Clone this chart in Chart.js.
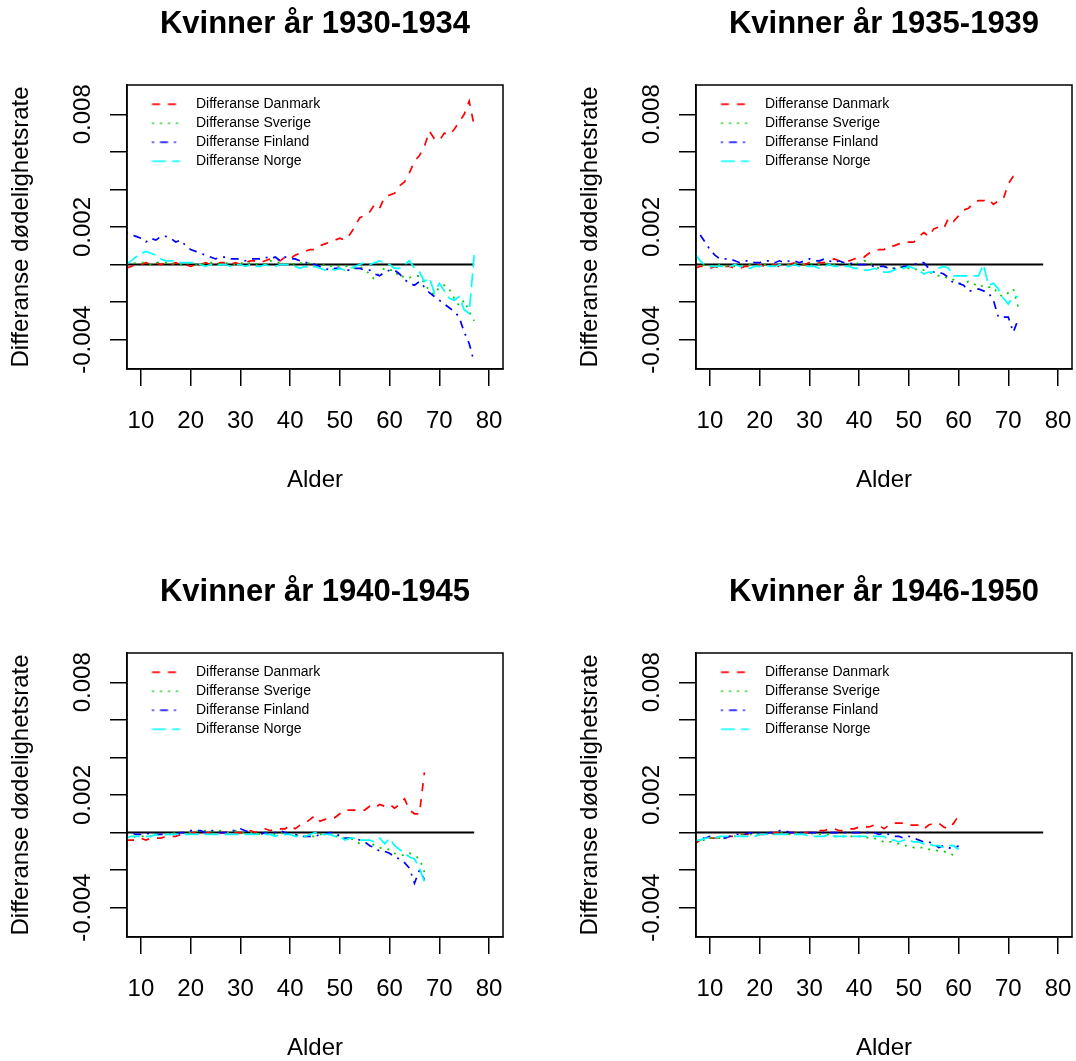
<!DOCTYPE html>
<html><head><meta charset="utf-8">
<script src="https://cdn.jsdelivr.net/npm/chart.js@4.4.1/dist/chart.umd.min.js"></script>
<style>
html,body{margin:0;padding:0;background:#fff;overflow:hidden;width:1076px;height:1061px;}
canvas{position:absolute;}
</style></head><body>
<canvas id="c1" width="507" height="500" style="left:0px;top:0px"></canvas>
<canvas id="c2" width="507" height="500" style="left:569px;top:0px"></canvas>
<canvas id="c3" width="507" height="500" style="left:0px;top:568px"></canvas>
<canvas id="c4" width="507" height="500" style="left:569px;top:568px"></canvas>
<script>
// ---- categories (age) ----
const ages = [7,8,9,10,11,12,13,14,15,16,17,18,19,20,21,22,23,24,25,26,27,28,29,30,31,32,33,34,35,36,
  37,38,39,40,41,42,43,44,45,46,47,48,49,50,51,52,53,54,55,56,57,58,59,60,61,62,63,64,65,66,
  67,68,69,70,71,72,73,74,75,76,77];

const panelTitles = ['Kvinner år 1930-1934','Kvinner år 1935-1939','Kvinner år 1940-1945','Kvinner år 1946-1950'];
const seriesNames = ['Differanse Danmark','Differanse Sverige','Differanse Finland','Differanse Norge'];

// ---- 1930-1934 (ages 7..77) ----
const dk1930 = [-0.0002,-0.0001,0.0000,0.0000,0.0001,0.0000,0.0001,0.0000,0.0001,0.0000,
  0.0001,0.0000,0.0000,-0.0001,0.0000,0.0000,0.0001,0.0000,0.0000,0.0001,
  0.0001,0.0000,0.0001,0.0000,0.0001,0.0002,0.0002,0.0001,0.0002,0.0003,
  0.0003,0.0002,0.0004,0.0003,0.0005,0.0006,0.0007,0.0008,0.0008,0.0010,
  0.0011,0.0012,0.0013,0.0014,0.0013,0.0016,0.0020,0.0025,0.0026,0.0028,
  0.0032,0.0030,0.0036,0.0037,0.0038,0.0042,0.0044,0.0049,0.0055,0.0058,
  0.0063,0.0071,0.0067,0.0066,0.0070,0.0069,0.0072,0.0076,0.0080,0.0087,0.0074];
const se1930 = [0.0000,0.0000,0.0001,0.0001,0.0001,0.0000,0.0001,0.0001,0.0001,0.0000,
  0.0001,0.0000,0.0000,0.0001,0.0000,0.0001,0.0000,0.0001,0.0001,0.0000,
  0.0001,0.0000,0.0000,0.0001,0.0000,0.0001,0.0000,0.0001,0.0000,0.0002,
  0.0001,0.0001,0.0000,0.0001,0.0000,0.0001,0.0000,0.0001,0.0000,-0.0001,
  0.0000,-0.0001,0.0000,-0.0001,-0.0001,-0.0001,-0.0002,-0.0001,-0.0003,-0.0005,
  -0.0008,-0.0004,-0.0002,-0.0003,-0.0003,-0.0007,-0.0006,-0.0007,-0.0006,-0.0006,
  -0.0010,-0.0014,-0.0016,-0.0012,-0.0011,-0.0013,-0.0018,-0.0022,-0.0019,-0.0025,-0.0030];
const fi1930 = [0.0017,0.0016,0.0015,0.0014,0.0012,0.0014,0.0013,0.0015,0.0015,0.0014,
  0.0012,0.0013,0.0010,0.0008,0.0007,0.0006,0.0005,0.0004,0.0003,0.0004,
  0.0004,0.0003,0.0003,0.0003,0.0002,0.0003,0.0003,0.0003,0.0004,0.0003,
  0.0004,0.0002,0.0004,0.0003,0.0003,0.0002,0.0001,0.0001,0.0000,-0.0001,
  -0.0002,-0.0003,-0.0002,-0.0002,-0.0003,-0.0003,-0.0002,-0.0002,-0.0003,-0.0003,
  -0.0005,-0.0006,-0.0004,-0.0003,-0.0003,-0.0005,-0.0008,-0.0010,-0.0011,-0.0009,
  -0.0012,-0.0015,-0.0017,-0.0019,-0.0021,-0.0023,-0.0025,-0.0028,-0.0036,-0.0042,-0.0052];
const no1930 = [0.0000,0.0002,0.0004,0.0006,0.0007,0.0006,0.0005,0.0003,0.0002,0.0002,
  0.0002,0.0001,0.0001,0.0001,0.0001,0.0000,-0.0001,0.0000,-0.0001,0.0000,
  0.0000,-0.0001,0.0000,0.0000,-0.0001,0.0000,-0.0001,-0.0001,0.0000,-0.0001,
  -0.0001,0.0000,0.0000,0.0000,-0.0001,-0.0002,-0.0001,-0.0002,-0.0001,-0.0002,
  -0.0003,-0.0002,-0.0003,-0.0002,-0.0003,-0.0002,-0.0001,0.0000,0.0001,0.0000,
  0.0001,0.0002,0.0001,0.0000,-0.0002,-0.0002,0.0000,0.0002,-0.0002,-0.0004,
  -0.0009,-0.0007,-0.0015,-0.0010,-0.0014,-0.0018,-0.0019,-0.0017,-0.0024,-0.0026,0.0005];

// ---- 1935-1939 (ages 7..72) ----
const dk1935 = [-0.0002,-0.0001,-0.0001,-0.0002,-0.0001,-0.0002,-0.0001,-0.0001,-0.0002,-0.0002,
  -0.0001,-0.0001,-0.0001,0.0000,-0.0001,0.0000,0.0000,-0.0001,0.0000,0.0000,
  0.0001,0.0000,0.0000,0.0001,0.0000,0.0001,0.0001,0.0002,0.0003,0.0002,
  0.0002,0.0002,0.0003,0.0004,0.0004,0.0006,0.0007,0.0008,0.0008,0.0010,
  0.0010,0.0011,0.0012,0.0012,0.0012,0.0015,0.0017,0.0015,0.0019,0.0020,
  0.0019,0.0025,0.0023,0.0026,0.0029,0.0030,0.0033,0.0034,0.0034,0.0035,
  0.0032,0.0034,0.0035,0.0043,0.0047,0.0048];
const se1935 = [-0.0001,-0.0001,0.0000,-0.0001,-0.0001,0.0000,-0.0001,0.0000,-0.0001,-0.0001,
  0.0000,0.0000,-0.0001,0.0000,0.0000,0.0000,-0.0001,0.0000,0.0000,0.0000,
  0.0001,0.0000,0.0000,0.0000,0.0001,0.0000,0.0000,0.0001,0.0000,0.0001,
  0.0001,0.0000,0.0000,0.0001,0.0002,0.0002,-0.0001,-0.0002,-0.0001,-0.0002,
  -0.0002,-0.0001,-0.0002,-0.0002,-0.0003,-0.0002,-0.0003,-0.0004,-0.0005,-0.0006,
  -0.0006,-0.0008,-0.0008,-0.0010,-0.0010,-0.0009,-0.0010,-0.0012,-0.0011,-0.0012,
  -0.0012,-0.0016,-0.0017,-0.0015,-0.0013,-0.0023];
const fi1935 = [0.0019,0.0016,0.0012,0.0008,0.0005,0.0003,0.0003,0.0003,0.0002,0.0001,
  0.0002,0.0002,0.0001,0.0001,0.0002,0.0002,0.0001,0.0002,0.0001,0.0002,
  0.0002,0.0001,0.0002,0.0003,0.0002,0.0002,0.0003,0.0002,0.0001,0.0002,
  0.0001,0.0001,0.0000,0.0000,0.0000,0.0000,-0.0001,-0.0001,-0.0001,-0.0002,
  -0.0002,-0.0002,-0.0001,-0.0001,0.0000,0.0001,0.0001,-0.0002,-0.0004,-0.0004,
  -0.0005,-0.0007,-0.0010,-0.0010,-0.0011,-0.0014,-0.0014,-0.0013,-0.0014,-0.0015,
  -0.0019,-0.0028,-0.0028,-0.0028,-0.0036,-0.0029];
const no1935 = [0.0006,0.0002,0.0000,-0.0001,-0.0001,-0.0001,-0.0001,-0.0001,0.0000,-0.0001,
  -0.0001,-0.0002,-0.0001,-0.0001,0.0000,-0.0001,-0.0001,0.0000,-0.0001,-0.0001,
  0.0000,-0.0001,-0.0001,-0.0001,-0.0001,-0.0002,-0.0001,0.0000,-0.0001,-0.0001,
  -0.0001,-0.0001,-0.0002,-0.0002,-0.0003,-0.0003,-0.0002,-0.0003,-0.0004,-0.0004,
  -0.0003,-0.0002,-0.0002,-0.0001,-0.0002,-0.0003,-0.0005,-0.0004,-0.0004,-0.0002,
  -0.0001,-0.0002,-0.0006,-0.0006,-0.0006,-0.0006,-0.0006,-0.0006,0.0000,-0.0011,
  -0.0010,-0.0013,-0.0018,-0.0021,-0.0017,-0.0017];

// ---- 1940-1945 (ages 7..67) ----
const dk1940 = [-0.0004,-0.0004,-0.0004,-0.0003,-0.0004,-0.0003,-0.0003,-0.0003,-0.0002,-0.0002,
  -0.0002,-0.0001,-0.0001,0.0000,0.0000,0.0001,0.0000,0.0000,0.0001,0.0000,
  0.0000,0.0001,0.0000,0.0000,0.0000,0.0001,0.0000,0.0001,0.0002,0.0001,
  0.0002,0.0002,0.0002,0.0004,0.0002,0.0004,0.0005,0.0007,0.0009,0.0006,
  0.0007,0.0008,0.0008,0.0010,0.0012,0.0012,0.0012,0.0012,0.0012,0.0014,
  0.0013,0.0015,0.0014,0.0015,0.0013,0.0015,0.0018,0.0012,0.0010,0.0010,
  0.0032];
const se1940 = [-0.0003,-0.0003,-0.0002,-0.0002,-0.0002,-0.0002,-0.0001,-0.0001,-0.0001,-0.0001,
  0.0000,0.0000,0.0000,0.0000,0.0001,0.0000,0.0001,0.0001,0.0000,0.0001,
  0.0000,0.0000,0.0001,0.0000,0.0000,0.0000,0.0000,-0.0001,0.0000,0.0000,
  -0.0001,0.0000,-0.0001,-0.0001,-0.0001,-0.0002,-0.0002,-0.0002,-0.0002,-0.0001,
  -0.0001,-0.0001,-0.0002,-0.0002,-0.0003,-0.0003,-0.0004,-0.0006,-0.0006,-0.0005,
  -0.0007,-0.0008,-0.0009,-0.0009,-0.0011,-0.0012,-0.0012,-0.0011,-0.0012,-0.0014,
  -0.0021];
const fi1940 = [-0.0001,0.0000,-0.0001,-0.0001,-0.0001,0.0000,-0.0001,-0.0001,-0.0001,-0.0001,
  -0.0001,0.0000,0.0000,0.0001,0.0001,0.0001,0.0000,0.0001,0.0001,0.0000,
  0.0000,0.0001,0.0001,0.0002,0.0001,0.0000,-0.0001,-0.0001,0.0000,-0.0001,
  0.0000,0.0001,0.0000,-0.0001,-0.0001,-0.0002,-0.0002,-0.0002,-0.0002,-0.0001,
  -0.0001,0.0000,0.0000,-0.0002,-0.0003,-0.0003,-0.0003,-0.0004,-0.0005,-0.0007,
  -0.0008,-0.0010,-0.0010,-0.0011,-0.0013,-0.0014,-0.0016,-0.0019,-0.0027,-0.0020,
  -0.0025];
const no1940 = [-0.0003,-0.0002,-0.0002,-0.0002,-0.0002,-0.0002,-0.0001,-0.0002,-0.0001,-0.0001,
  -0.0001,-0.0001,-0.0001,-0.0001,-0.0001,-0.0001,-0.0001,-0.0001,-0.0001,-0.0001,
  -0.0001,-0.0001,-0.0001,-0.0001,-0.0001,-0.0001,-0.0001,-0.0001,-0.0001,-0.0001,
  -0.0002,-0.0001,-0.0001,-0.0001,-0.0002,-0.0002,-0.0002,-0.0001,0.0000,-0.0001,
  -0.0001,-0.0001,-0.0002,-0.0002,-0.0004,-0.0003,-0.0003,-0.0004,-0.0004,-0.0004,
  -0.0005,-0.0003,-0.0006,-0.0003,-0.0007,-0.0009,-0.0011,-0.0013,-0.0014,-0.0019,
  -0.0026];

// ---- 1946-1950 (ages 7..60) ----
const dk1946 = [-0.0006,-0.0004,-0.0003,-0.0003,-0.0003,-0.0003,-0.0003,-0.0002,-0.0002,-0.0001,
  -0.0001,-0.0001,-0.0002,-0.0001,-0.0001,-0.0001,0.0000,0.0000,0.0000,0.0000,
  0.0000,0.0000,0.0000,0.0000,0.0000,0.0001,0.0001,0.0002,0.0002,0.0001,
  0.0001,0.0002,0.0002,0.0003,0.0003,0.0003,0.0004,0.0004,0.0002,0.0004,
  0.0005,0.0005,0.0005,0.0004,0.0004,0.0004,0.0002,0.0004,0.0005,0.0005,
  0.0003,0.0002,0.0005,0.0009];
const se1946 = [-0.0005,-0.0004,-0.0004,-0.0003,-0.0003,-0.0003,-0.0003,-0.0002,-0.0002,-0.0001,
  -0.0001,-0.0001,-0.0001,-0.0001,-0.0001,0.0000,-0.0001,0.0000,0.0000,-0.0001,
  0.0000,-0.0001,-0.0001,0.0000,-0.0001,-0.0001,-0.0001,-0.0001,-0.0002,-0.0002,
  -0.0002,-0.0002,-0.0002,-0.0002,-0.0002,-0.0003,-0.0003,-0.0004,-0.0005,-0.0005,
  -0.0005,-0.0006,-0.0007,-0.0007,-0.0008,-0.0008,-0.0008,-0.0009,-0.0009,-0.0010,
  -0.0010,-0.0011,-0.0012,-0.0011];
const fi1946 = [-0.0004,-0.0003,-0.0003,-0.0002,-0.0003,-0.0002,-0.0003,-0.0002,-0.0001,-0.0001,
  -0.0001,0.0000,-0.0001,0.0000,-0.0001,0.0000,0.0000,0.0001,0.0001,0.0000,
  0.0000,0.0000,0.0000,0.0000,0.0000,0.0000,0.0000,0.0000,0.0000,0.0000,
  0.0000,0.0000,0.0000,0.0000,0.0000,0.0000,0.0000,-0.0001,0.0000,-0.0001,
  -0.0002,-0.0002,-0.0003,-0.0002,-0.0003,-0.0004,-0.0005,-0.0005,-0.0006,-0.0008,
  -0.0007,-0.0008,-0.0009,-0.0007];
const no1946 = [-0.0004,-0.0004,-0.0003,-0.0003,-0.0003,-0.0002,-0.0002,-0.0002,-0.0002,-0.0002,
  -0.0002,-0.0002,-0.0002,-0.0001,-0.0001,-0.0001,-0.0001,-0.0001,-0.0001,-0.0001,
  -0.0001,-0.0001,-0.0001,-0.0002,-0.0002,-0.0002,-0.0002,-0.0001,-0.0002,-0.0002,
  -0.0002,-0.0002,-0.0002,-0.0002,-0.0002,-0.0002,-0.0002,-0.0002,-0.0002,-0.0004,
  -0.0004,-0.0005,-0.0004,-0.0004,-0.0005,-0.0005,-0.0006,-0.0006,-0.0007,-0.0007,
  -0.0008,-0.0007,-0.0007,-0.0009];

// ---- axes ----
const xLimits = [10, 80];
const yLimits = [-0.005, 0.009];
const xTickValues = [10, 20, 30, 40, 50, 60, 70, 80];
const xTickLabels = ['10', '20', '30', '40', '50', '60', '70', '80'];
const yTickValues = [-0.004, -0.002, 0, 0.002, 0.004, 0.006, 0.008];
const yTickLabels = ['-0.004', '', '', '0.002', '', '', '0.008'];
const xAxisTitle = 'Alder';
const yAxisTitle = 'Differanse dødelighetsrate';
const zeroLineAges = [7, 77];
const zeroLineValues = [0, 0];

// ---- styles ----
const seriesColors = ['#FF0000', '#00CD00', '#0000FF', '#00FFFF'];
const seriesDashes = [[8, 8], [2, 6], [2, 6, 8, 6], [14, 6]];
const FONT = "'Liberation Sans', Arial, Helvetica, sans-serif";
Chart.defaults.font.family = FONT;
Chart.defaults.color = '#000';

function expand(lim) { const d = (lim[1] - lim[0]) * 0.04; return [lim[0] - d, lim[1] + d]; }
const xr = expand(xLimits), yr = expand(yLimits);

// legend line samples (canvas images used as point styles)
const legendImages = seriesColors.map((c, k) => {
  const cv = document.createElement('canvas');
  cv.width = 40; cv.height = 6;
  const g = cv.getContext('2d');
  g.strokeStyle = c; g.lineWidth = 1.7; g.setLineDash(seriesDashes[k]);
  g.beginPath(); g.moveTo(11.5, 3); g.lineTo(39.5, 3); g.stroke();
  return cv;
});

const boxPlugin = {
  id: 'rbox',
  afterDraw(chart) {
    const {ctx, chartArea: a} = chart;
    ctx.save(); ctx.strokeStyle = '#000'; ctx.lineWidth = 1.5;
    ctx.strokeRect(a.left, a.top, a.right - a.left, a.bottom - a.top);
    ctx.restore();
  }
};
// keep the in-plot legend anchored to the plot region's top edge
const legendAnchor = {
  id: 'legendAnchor',
  afterLayout(chart) {
    if (chart.legend) { chart.legend.top = chart.chartArea.top; chart.legend.left = chart.chartArea.left; }
  }
};

const panels = [
  {id: 'c1', title: panelTitles[0], series: [dk1930, se1930, fi1930, no1930]},
  {id: 'c2', title: panelTitles[1], series: [dk1935, se1935, fi1935, no1935]},
  {id: 'c3', title: panelTitles[2], series: [dk1940, se1940, fi1940, no1940]},
  {id: 'c4', title: panelTitles[3], series: [dk1946, se1946, fi1946, no1946]}
];

panels.forEach(p => {
  const datasets = p.series.map((vals, k) => ({
    label: seriesNames[k],
    data: vals.map((v, i) => ({x: ages[i], y: v})),
    borderColor: seriesColors[k], borderDash: seriesDashes[k], borderWidth: 1.7,
    pointRadius: 0, fill: false, tension: 0, order: 4 - k
  }));
  datasets.push({
    label: '', data: zeroLineAges.map((a, i) => ({x: a, y: zeroLineValues[i]})),
    borderColor: '#000', borderWidth: 2, pointRadius: 0, fill: false, order: 10
  });
  new Chart(document.getElementById(p.id), {
    type: 'line',
    data: {datasets},
    plugins: [boxPlugin, legendAnchor],
    options: {
      responsive: false, animation: false, devicePixelRatio: 1,
      layout: {padding: {left: 0, top: 0, right: 4, bottom: 0}},
      plugins: {
        tooltip: {enabled: false},
        title: {display: true, text: p.title, fullSize: false, color: '#000',
          font: {size: 31, weight: 'bold'}, padding: {top: 6, bottom: 41.8}},
        legend: {
          position: 'chartArea', align: 'start',
          title: {display: true, text: '', font: {size: 1}, padding: {top: 6, bottom: 0}},
          labels: {
            usePointStyle: true, pointStyleWidth: 57, padding: 5, color: '#000',
            font: {size: 14},
            generateLabels(chart) {
              return chart.data.datasets.map((ds, i) => ({
                text: ds.label, pointStyle: legendImages[i], datasetIndex: i, hidden: false,
                fillStyle: ds.borderColor, strokeStyle: ds.borderColor, lineWidth: 0, fontColor: '#000'
              })).filter(it => it.text);
            }
          }
        }
      },
      scales: {
        x: {
          type: 'linear', min: xr[0], max: xr[1],
          afterBuildTicks: s => { s.ticks = xTickValues.map(v => ({value: v})); },
          afterFit: s => { s.height = 131; s.paddingLeft = 0; s.paddingRight = 0; },
          ticks: {autoSkip: false, minRotation: 0, maxRotation: 0, padding: 20.8, color: '#000',
            font: {size: 24}, callback: (v, i) => xTickLabels[i]},
          grid: {drawOnChartArea: false, drawTicks: true, tickLength: 17, color: '#000', lineWidth: 1.5},
          border: {display: true, color: '#000', width: 1.5},
          title: {display: true, text: xAxisTitle, color: '#000', font: {size: 24}, padding: {top: 0, bottom: 5.6}}
        },
        y: {
          type: 'linear', min: yr[0], max: yr[1],
          afterBuildTicks: s => { s.ticks = yTickValues.map(v => ({value: v})); },
          afterFit: s => { s.width = 127; s.paddingTop = 0; s.paddingBottom = 0; },
          ticks: {autoSkip: false, minRotation: 90, maxRotation: 90, crossAlign: 'center', padding: -7,
            color: '#000', font: {size: 24}, callback: (v, i) => yTickLabels[i]},
          grid: {drawOnChartArea: false, drawTicks: true, tickLength: 17, color: '#000', lineWidth: 1.5},
          border: {display: true, color: '#000', width: 1.5},
          title: {display: true, text: yAxisTitle, color: '#000', font: {size: 24}, padding: {top: 7, bottom: 0}}
        }
      }
    }
  });
});
</script>
</body></html>
